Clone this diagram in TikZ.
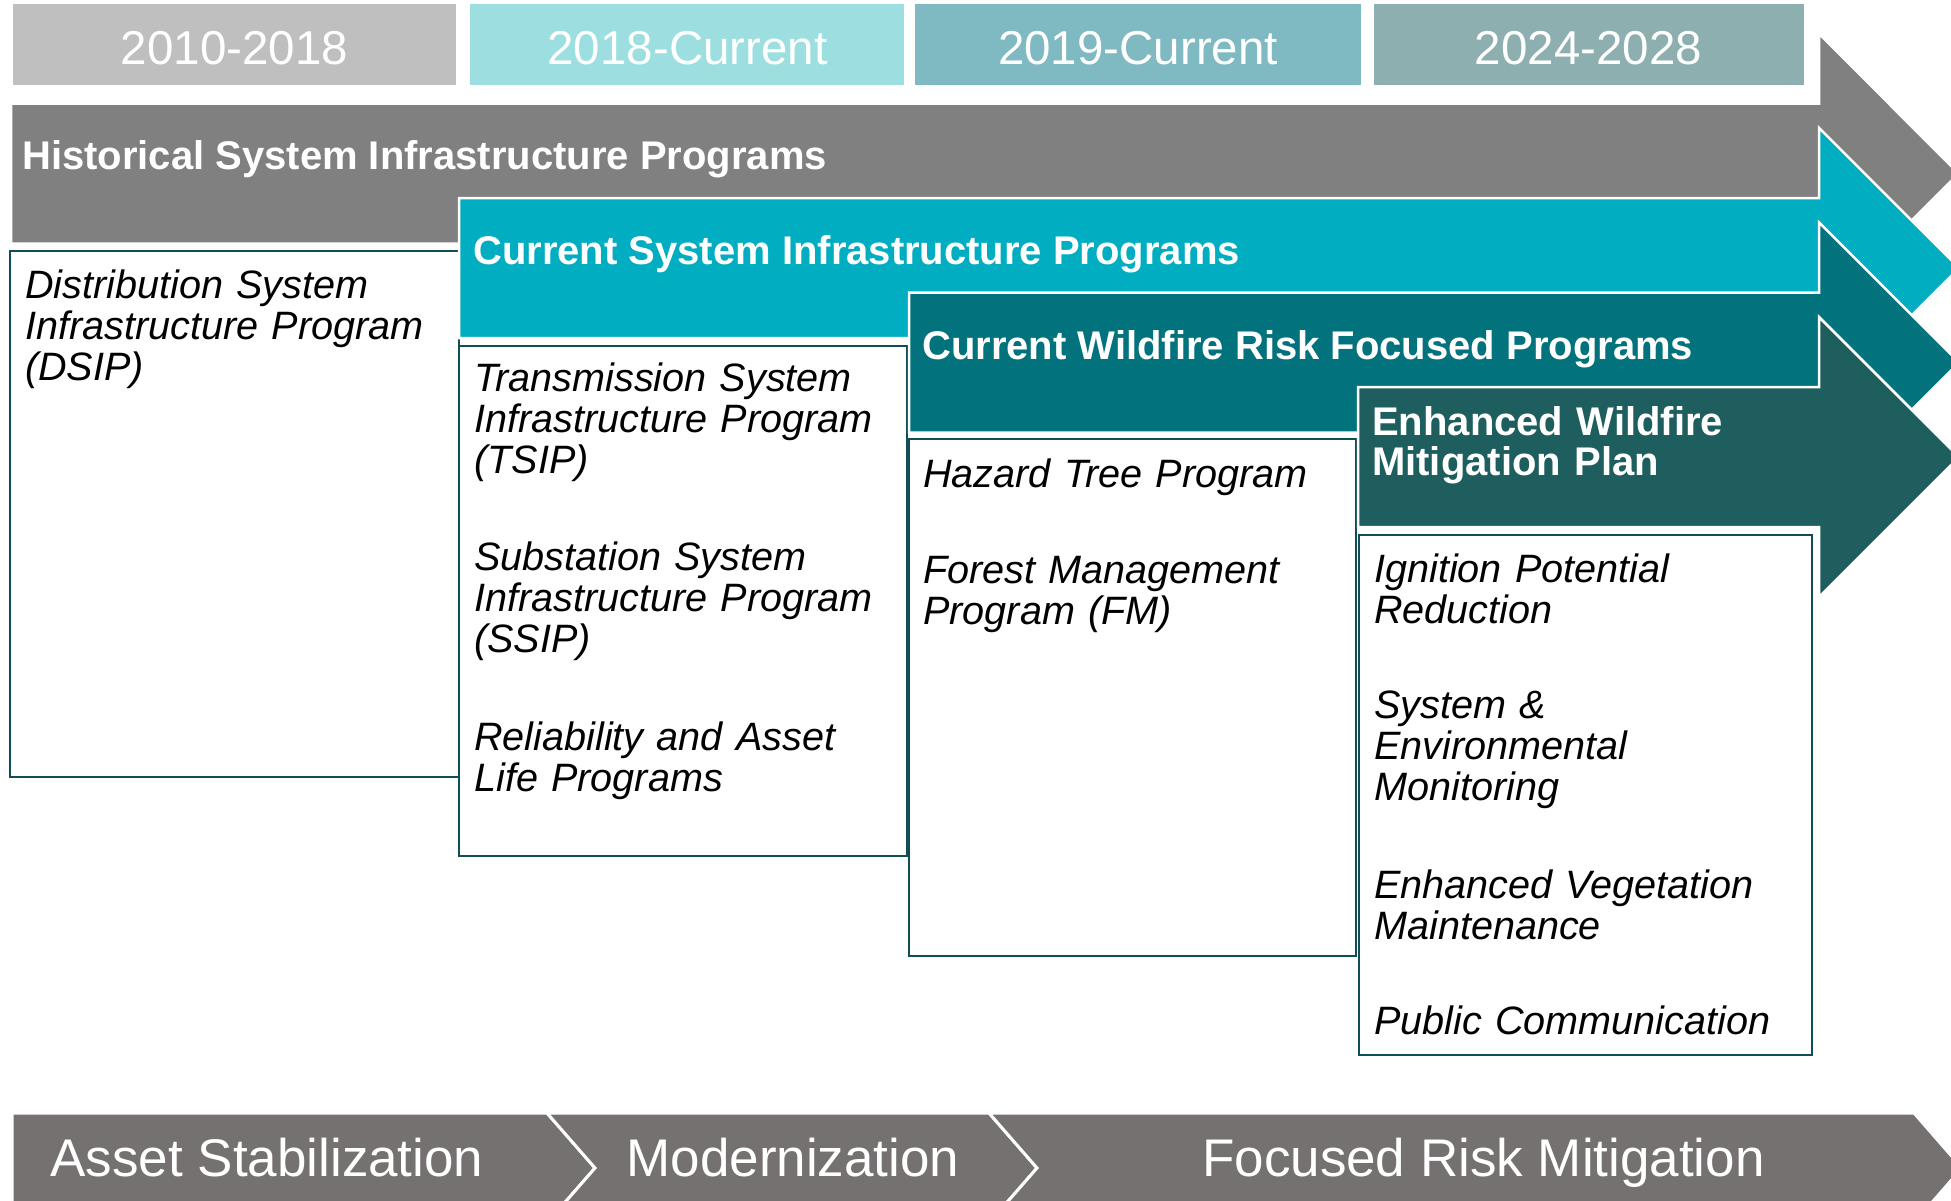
\documentclass[tikz,border=0pt]{standalone}
\usepackage{fontspec}
\setmainfont{Liberation Sans}
\definecolor{yrA}{RGB}{191,191,191}
\definecolor{yrB}{RGB}{157,223,224}
\definecolor{yrC}{RGB}{127,185,193}
\definecolor{yrD}{RGB}{142,175,175}
\definecolor{arrGray}{RGB}{128,128,128}
\definecolor{arrCyan}{RGB}{0,173,193}
\definecolor{arrTeal}{RGB}{2,114,124}
\definecolor{arrDark}{RGB}{30,94,95}
\definecolor{chevGray}{RGB}{118,113,113}
\definecolor{boxLine}{RGB}{16,78,86}
\tikzset{
  yearbox/.style={anchor=north west, inner sep=0pt, outer sep=0pt, draw=none},
  yeartext/.style={anchor=base, inner sep=0pt, text=white, font=\fontsize{47.5}{47.5}\selectfont},
  bigarrow/.style={draw=white, line width=2.5pt, line join=miter},
  headtext/.style={anchor=base west, inner sep=0pt, text=white, font=\fontsize{40}{40}\selectfont\bfseries, align=left},
  listbox/.style={anchor=north west, inner sep=0pt, outer sep=0pt, draw=boxLine, line width=2pt, fill=white},
  itemtext/.style={anchor=base west, inner sep=0pt, text=black, text width=440pt, align=left, font=\fontsize{39.6}{41}\selectfont\itshape},
  chev/.style={fill=chevGray, draw=white, line width=3pt, line join=miter},
  chevtext/.style={anchor=base, inner sep=0pt, text=white, font=\fontsize{53}{53}\selectfont}
}
\begin{document}
\begin{tikzpicture}[x=1pt,y=-1pt]
\useasboundingbox (0,0) rectangle (1951,1200);
\fill[white] (0,0) rectangle (1951,1200);

% year header boxes
\node[yearbox, fill=yrA, minimum width=443pt, minimum height=81pt] (yA) at (12.5,4) {};
\node[yearbox, fill=yrB, minimum width=434pt, minimum height=81pt] (yB) at (470,4) {};
\node[yearbox, fill=yrC, minimum width=446pt, minimum height=81pt] (yC) at (915,4) {};
\node[yearbox, fill=yrD, minimum width=430pt, minimum height=81pt] (yD) at (1374,4) {};
\node[yeartext] (yAt) at (234.5,64) {2010-2018};
\node[yeartext] (yBt) at (687.5,64) {2018-Current};
\node[yeartext] (yCt) at (1138,64) {2019-Current};
\node[yeartext] (yDt) at (1588.5,64) {2024-2028};

% historical arrow
\path[bigarrow, fill=arrGray] (11,103.5) -- (1819,103.5) -- (1819,33.5) -- (1958.5,173.5) -- (1819,313.5) -- (1819,243.5) -- (11,243.5) -- cycle;
\node[headtext] (hA) at (22,169) {Historical System Infrastructure Programs};
\node[listbox, minimum width=449pt, minimum height=526pt] (bA) at (10,251) {};
\node[itemtext] (iA1) at (25,298) {Distribution System\\Infrastructure Program\\(DSIP)};

% current system arrow
\path[bigarrow, fill=arrCyan] (459,198) -- (1819,198) -- (1819,128) -- (1959,268) -- (1819,408) -- (1819,338) -- (459,338) -- cycle;
\node[headtext] (hB) at (473,264) {Current System Infrastructure Programs};
\node[listbox, minimum width=448pt, minimum height=510pt] (bB) at (459,346) {};
\node[itemtext] (iB1) at (474,391) {Transmission System\\Infrastructure Program\\(TSIP)};
\node[itemtext] (iB2) at (474,570.5) {Substation System\\Infrastructure Program\\(SSIP)};
\node[itemtext] (iB3) at (474,750) {Reliability and Asset\\Life Programs};

% wildfire risk arrow
\path[bigarrow, fill=arrTeal] (909,292.5) -- (1819,292.5) -- (1819,222.5) -- (1959,362.5) -- (1819,502.5) -- (1819,432.5) -- (909,432.5) -- cycle;
\node[headtext] (hC) at (922,359) {Current Wildfire Risk Focused Programs};
\node[listbox, minimum width=447pt, minimum height=517pt] (bC) at (909,439) {};
\node[itemtext] (iC1) at (923,487) {Hazard Tree Program};
\node[itemtext] (iC2) at (923,583) {Forest Management\\Program (FM)};

% enhanced plan arrow
\path[bigarrow, fill=arrDark] (1358,387) -- (1819,387) -- (1819,317) -- (1959,457) -- (1819,597) -- (1819,527) -- (1358,527) -- cycle;
\node[headtext, text width=440pt] (hD) at (1372,435) {Enhanced Wildfire\\Mitigation Plan};
\node[listbox, minimum width=453pt, minimum height=520pt] (bD) at (1359,535) {};
\node[itemtext] (iD1) at (1374,582) {Ignition Potential\\Reduction};
\node[itemtext] (iD2) at (1374,718.5) {System \&\\Environmental\\Monitoring};
\node[itemtext] (iD3) at (1374,898) {Enhanced Vegetation\\Maintenance};
\node[itemtext] (iD4) at (1374,1034.5) {Public Communication};

% bottom phase chevrons
\path[chev] (12,1113) -- (547,1113) -- (595,1168) -- (547,1223) -- (12,1223) -- cycle;
\path[chev] (547,1113) -- (989,1113) -- (1037,1168) -- (989,1223) -- (547,1223) -- (595,1168) -- cycle;
\path[chev] (989,1113) -- (1914,1113) -- (1962,1168) -- (1914,1223) -- (989,1223) -- (1037,1168) -- cycle;
\node[chevtext] (cA) at (267,1176.5) {Asset Stabilization};
\node[chevtext] (cB) at (793,1176.5) {Modernization};
\node[chevtext] (cC) at (1483.5,1176.5) {Focused Risk Mitigation};
\end{tikzpicture}
\end{document}
